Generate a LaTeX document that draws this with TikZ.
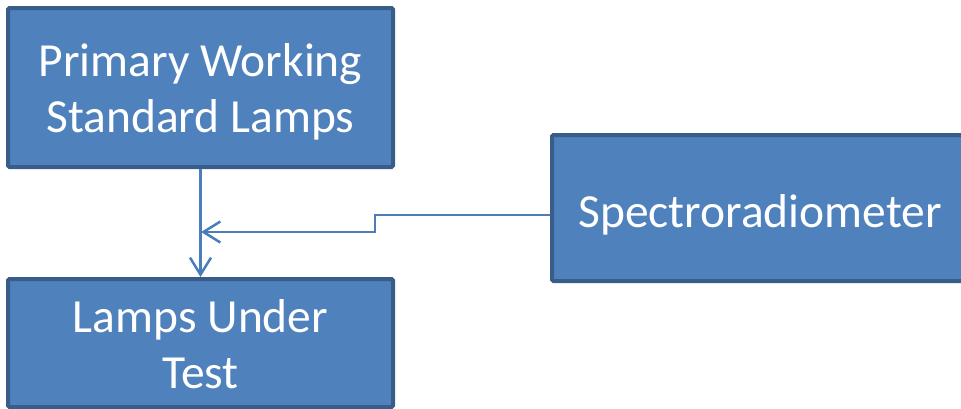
\documentclass[tikz,border=0pt]{standalone}
\usepackage{fontspec}
\setmainfont{Carlito}
\usetikzlibrary{arrows.meta}

\definecolor{boxfill}{HTML}{4F81BD}
\definecolor{boxline}{HTML}{385D8A}
\definecolor{linkblue}{HTML}{4A7EBB}

\begin{document}
\begin{tikzpicture}[x=1pt,y=-1pt,
    blockbox/.style={draw=boxline, line width=4pt, fill=boxfill, rounded corners=1.5pt,
      text=white, font=\fontsize{47.5}{56}\selectfont, align=center, inner sep=0pt},
    link/.style={draw=linkblue, line width=2.5pt, -{Straight Barb[length=17pt,width=21pt,line width=2.5pt]}}]
  \useasboundingbox (0,0) rectangle (961,408);

  % Boxes
  \node[blockbox, minimum width=385pt, minimum height=159pt, text height=99pt, text depth=10pt] (pwsl) at (200.5,87.5) {Primary Working\\Standard Lamps};
  \node[blockbox, minimum width=416pt, minimum height=146pt, text height=40pt, text depth=2pt] (spec) at (760,208) {Spectroradiometer};
  \node[blockbox, minimum width=385pt, minimum height=128pt, text height=100pt, text depth=10pt] (lut) at (200.5,343) {Lamps Under\\Test};

  % Links
  \coordinate (meet) at (201,232);
  \draw[link] (pwsl.south) -- (lut.north);
  \draw[link] ([yshift=-7pt]spec.west) -- ++(-175,0) |- (meet);
\end{tikzpicture}
\end{document}
